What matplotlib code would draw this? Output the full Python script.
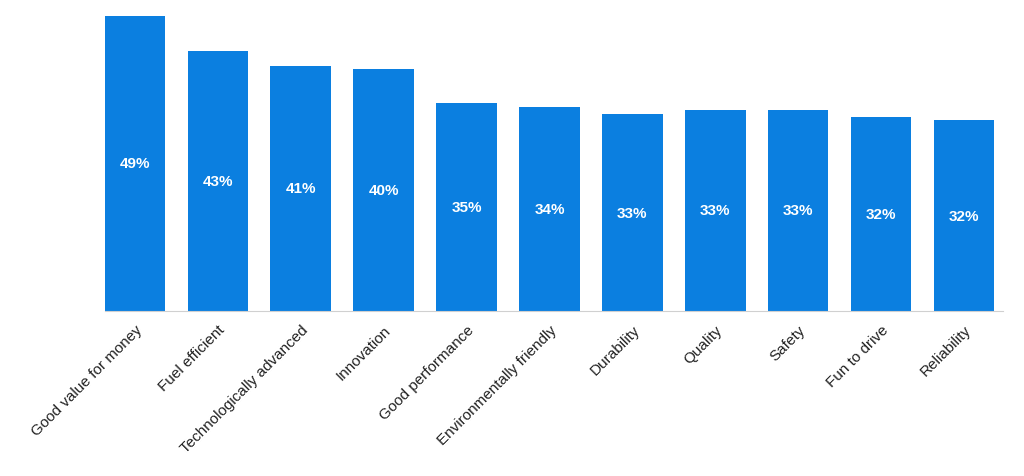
import matplotlib
matplotlib.use("Agg")
import matplotlib.pyplot as plt

categories = ["Good value for money", "Fuel efficient", "Technologically advanced", "Innovation",
              "Good performance", "Environmentally friendly", "Durability", "Quality", "Safety",
              "Fun to drive", "Reliability"]
values = [49.0, 43.2, 40.7, 40.2, 34.5, 33.9, 32.7, 33.4, 33.4, 32.2, 31.7]
labels = ["49%", "43%", "41%", "40%", "35%", "34%", "33%", "33%", "33%", "32%", "32%"]

plt.rcParams['font.family'] = ['Liberation Sans', 'DejaVu Sans']

fig = plt.figure(figsize=(10.24, 4.77), dpi=100)
ax = fig.add_axes([105 / 1024, 1 - 312 / 477, 898 / 1024, (312 - 17) / 477])

x = range(len(categories))
ax.bar(x, values, width=0.73, color="#0b7fe0")
for i, (v, lab) in enumerate(zip(values, labels)):
    ax.text(i, v / 2, lab, ha="center", va="center", color="white", fontsize=11, fontweight="bold")

ax.set_xlim(-0.36, 10.47)
ax.set_ylim(0, 49)
ax.set_xticks(list(x))
ax.set_xticklabels(categories, rotation=45, ha="right", rotation_mode="anchor", fontsize=11, color="#222222")
ax.tick_params(axis="x", length=0, pad=8)
ax.set_yticks([])
for s in ["top", "right", "left"]:
    ax.spines[s].set_visible(False)
ax.spines["bottom"].set_color("#d0d0d0")

fig.savefig("out.png", dpi=100)
